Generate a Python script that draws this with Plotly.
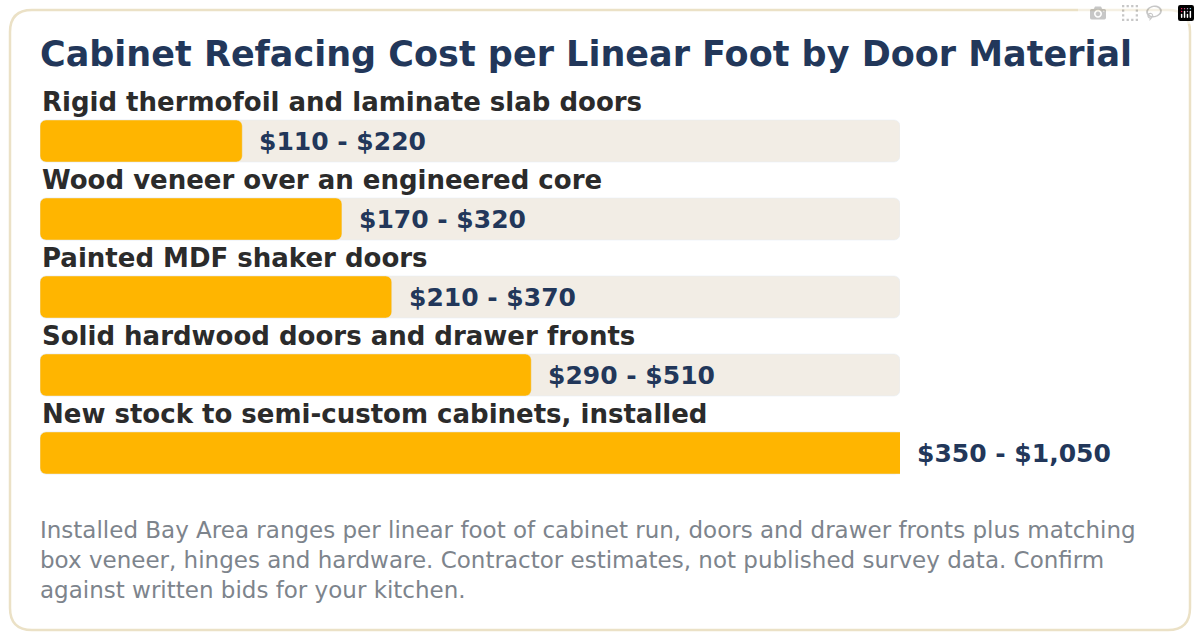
import plotly.graph_objects as go

# door materials, top to bottom
materials = [
    "Rigid thermofoil and laminate slab doors",
    "Wood veneer over an engineered core",
    "Painted MDF shaker doors",
    "Solid hardwood doors and drawer fronts",
    "New stock to semi-custom cabinets, installed",
]
low = [110, 170, 210, 290, 350]
high = [220, 320, 370, 510, 1050]

X_MIN, X_MAX = 17, 880
W, H = 1200, 640

navy = "#22375a"
gold = "#ffb500"
track = "#f2ede5"
font = "DejaVu Sans"

rows = list(range(len(materials)))

fig = go.Figure()
fig.add_trace(go.Bar(x=[X_MAX - X_MIN] * len(rows), base=X_MIN, y=rows, orientation="h",
                     marker=dict(color=track), width=0.54, hoverinfo="skip"))
fig.add_trace(go.Bar(x=[h - X_MIN for h in high], base=X_MIN, y=rows, orientation="h",
                     marker=dict(color=gold), width=0.54,
                     hovertext=materials, hoverinfo="text"))


def px_x(p):
    return p / W


def px_y(p):
    return 1 - p / H


annotations = []
for i, (name, lo, hi) in enumerate(zip(materials, low, high)):
    annotations.append(dict(x=X_MIN, y=i, xref="x", yref="y", text=name, showarrow=False,
                            xanchor="left", yanchor="middle", yshift=39,
                            font=dict(family=font, size=26, color="#2b2b2b", weight="bold")))
    annotations.append(dict(x=min(hi, X_MAX), y=i, xref="x", yref="y",
                            text="${:,} - ${:,}".format(lo, hi), showarrow=False,
                            xanchor="left", yanchor="middle", xshift=15,
                            font=dict(family=font, size=25, color=navy, weight="bold")))

annotations.append(dict(x=px_x(38), y=px_y(54), xref="paper", yref="paper",
                        text="Cabinet Refacing Cost per Linear Foot by Door Material",
                        showarrow=False, xanchor="left", yanchor="middle",
                        font=dict(family=font, size=35, color=navy, weight="bold")))
notes = [
    "Installed Bay Area ranges per linear foot of cabinet run, doors and drawer fronts plus matching",
    "box veneer, hinges and hardware. Contractor estimates, not published survey data. Confirm",
    "against written bids for your kitchen.",
]
for j, line in enumerate(notes):
    annotations.append(dict(x=px_x(38), y=px_y(530 + 30 * j), xref="paper", yref="paper",
                            text=line, showarrow=False, xanchor="left", yanchor="middle",
                            font=dict(family=font, size=23, color="#7d848c")))

# rounded card border
x0, y0, x1, y1, r = 10, 10, 1190, 630, 22
card = ("M {a},{b} L {c},{b} Q {x1},{b} {x1},{d} L {x1},{e} Q {x1},{y1} {c},{y1} "
        "L {a},{y1} Q {x0},{y1} {x0},{e} L {x0},{d} Q {x0},{b} {a},{b} Z").format(
    a=px_x(x0 + r), b=px_y(y0), c=px_x(x1 - r), d=px_y(y0 + r), e=px_y(y1 - r),
    x0=px_x(x0), x1=px_x(x1), y1=px_y(y1))

fig.update_layout(
    width=W, height=H, margin=dict(l=0, r=0, t=0, b=0),
    paper_bgcolor="white", plot_bgcolor="white",
    barmode="overlay", barcornerradius=6, showlegend=False,
    xaxis=dict(range=[X_MIN, X_MAX], domain=[px_x(40), px_x(900)], visible=False, fixedrange=True),
    yaxis=dict(range=[4.5, -0.5], domain=[px_y(492), px_y(102)], visible=False, fixedrange=True),
    annotations=annotations,
    shapes=[dict(type="path", path=card, xref="paper", yref="paper",
                 line=dict(color="#ebe1c6", width=2.5), layer="below")],
)

fig.write_html("out.html", post_script="document.body.style.margin='0';"
               "document.body.style.overflow='hidden';")
